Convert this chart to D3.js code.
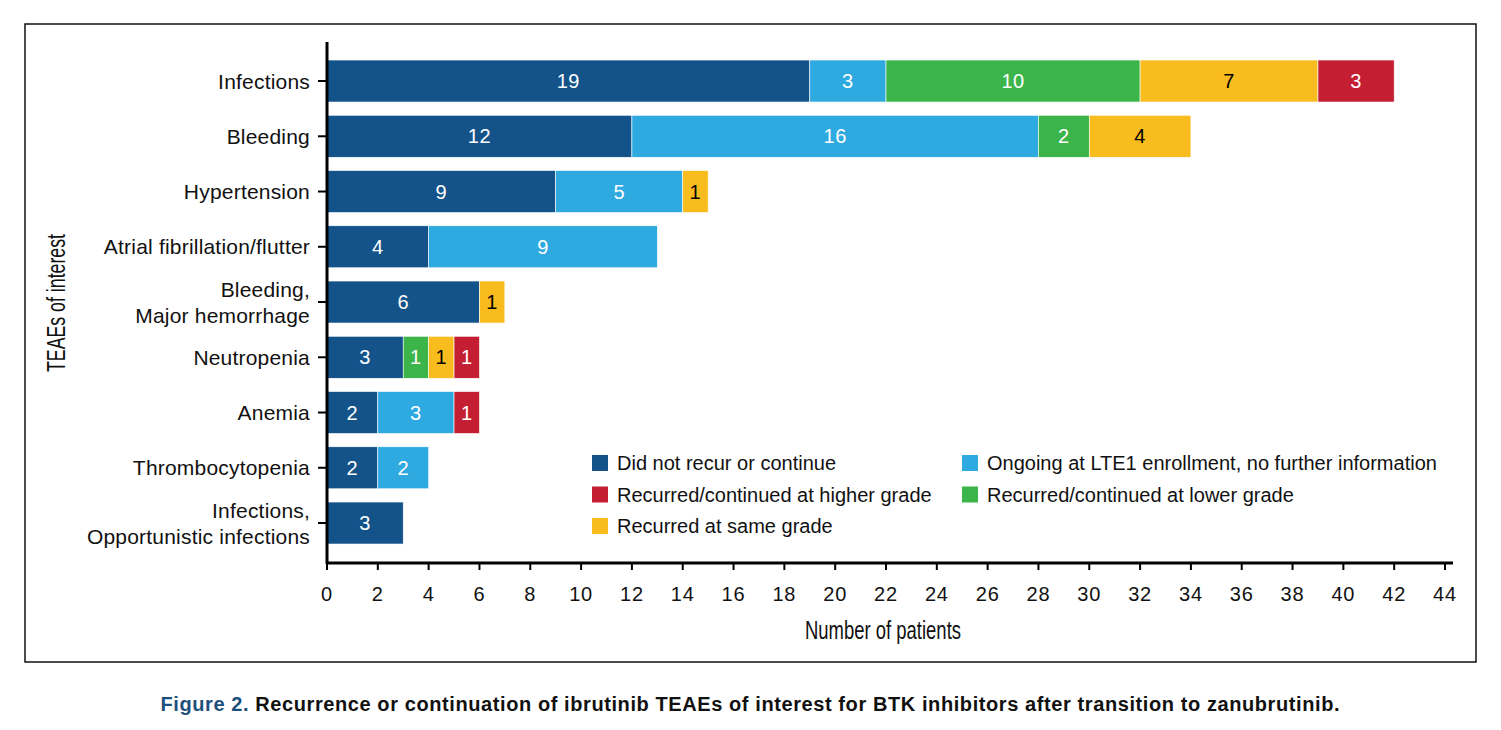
<!DOCTYPE html>
<html>
<head>
<meta charset="utf-8">
<script src="https://cdn.jsdelivr.net/npm/d3@7"></script>
<style>
  body { margin: 0; background: #fff; }
  svg { display: block; font-family: "Liberation Sans", Arial, sans-serif; }
</style>
</head>
<body>
<svg id="chart" width="1501" height="730"></svg>
<script>
// categories top to bottom
const categories = [
  "Infections",
  "Bleeding",
  "Hypertension",
  "Atrial fibrillation/flutter",
  "Bleeding,\nMajor hemorrhage",
  "Neutropenia",
  "Anemia",
  "Thrombocytopenia",
  "Infections,\nOpportunistic infections"
];

// series in stacking order, left to right
const seriesNames = [
  "Did not recur or continue",
  "Ongoing at LTE1 enrollment, no further information",
  "Recurred/continued at lower grade",
  "Recurred at same grade",
  "Recurred/continued at higher grade"
];
const seriesColors = ["#13538a", "#2eaae1", "#3bb54a", "#f9bc1e", "#c41e32"];

const didNotRecur = [19, 12, 9, 4, 6, 3, 2, 2, 3];
const ongoing     = [3, 16, 5, 9, 0, 0, 3, 2, 0];
const lowerGrade  = [10, 2, 0, 0, 0, 1, 0, 0, 0];
const sameGrade   = [7, 4, 1, 0, 1, 1, 0, 0, 0];
const higherGrade = [3, 0, 0, 0, 0, 1, 1, 0, 0];

const xTicks = d3.range(0, 45, 2);

// legend layout: two columns
const legendOrder = [
  [seriesNames[0], seriesNames[4], seriesNames[3]],
  [seriesNames[1], seriesNames[2]]
];

const rows = categories.map((c, i) => ({
  cat: c,
  [seriesNames[0]]: didNotRecur[i],
  [seriesNames[1]]: ongoing[i],
  [seriesNames[2]]: lowerGrade[i],
  [seriesNames[3]]: sameGrade[i],
  [seriesNames[4]]: higherGrade[i]
}));

const svg = d3.select("#chart");

// frame
svg.append("rect")
  .attr("x", 25).attr("y", 24)
  .attr("width", 1451).attr("height", 638)
  .attr("fill", "none").attr("stroke", "#111").attr("stroke-width", 1.5);

const x = d3.scaleLinear().domain([0, 44]).range([327, 1445]);
const y = d3.scaleBand()
  .domain(categories)
  .range([53.4, 550.65])
  .paddingInner(0.24)
  .paddingOuter(0.12);

const color = d3.scaleOrdinal().domain(seriesNames).range(seriesColors);

const stacked = d3.stack().keys(seriesNames)(rows);

// bars
const layers = svg.append("g")
  .selectAll("g")
  .data(stacked)
  .join("g")
    .attr("fill", d => color(d.key));

layers.selectAll("rect")
  .data(d => d.filter(s => s[1] - s[0] > 0).map(s => Object.assign(s, {key: d.key})))
  .join("rect")
    .attr("x", d => x(d[0]))
    .attr("y", d => y(d.data.cat))
    .attr("width", d => x(d[1]) - x(d[0]))
    .attr("height", y.bandwidth())
    .attr("stroke", "#fff")
    .attr("stroke-width", 0.6);

layers.selectAll("text")
  .data(d => d.filter(s => s[1] - s[0] > 0).map(s => Object.assign(s, {key: d.key})))
  .join("text")
    .attr("x", d => (x(d[0]) + x(d[1])) / 2)
    .attr("y", d => y(d.data.cat) + y.bandwidth() / 2)
    .attr("dy", "0.36em")
    .attr("text-anchor", "middle")
    .attr("font-size", 20)
    .attr("letter-spacing", 0.5)
    .attr("fill", d => d.key === seriesNames[3] ? "#000" : "#fff")
    .text(d => d[1] - d[0]);

// x axis
const xAxis = svg.append("g")
  .attr("transform", "translate(0,563)");
xAxis.append("line")
  .attr("x1", 326).attr("x2", 1453)
  .attr("stroke", "#000").attr("stroke-width", 3);
xAxis.selectAll(".tick")
  .data(xTicks)
  .join("line")
    .attr("x1", d => x(d)).attr("x2", d => x(d))
    .attr("y1", 0).attr("y2", 7)
    .attr("stroke", "#000").attr("stroke-width", 2);
xAxis.selectAll("text")
  .data(xTicks)
  .join("text")
    .attr("x", d => x(d))
    .attr("y", 38)
    .attr("text-anchor", "middle")
    .attr("font-size", 20)
    .attr("letter-spacing", 0.8)
    .attr("fill", "#111")
    .text(d => d);

svg.append("text")
  .attr("x", 883).attr("y", 639)
  .attr("text-anchor", "middle")
  .attr("font-size", 25)
  .attr("textLength", 156)
  .attr("lengthAdjust", "spacingAndGlyphs")
  .attr("fill", "#111")
  .text("Number of patients");

// y axis
const yAxis = svg.append("g");
yAxis.append("line")
  .attr("x1", 327).attr("x2", 327)
  .attr("y1", 42).attr("y2", 564)
  .attr("stroke", "#000").attr("stroke-width", 3);
yAxis.selectAll("line.tick")
  .data(categories)
  .join("line")
    .attr("class", "tick")
    .attr("x1", 318).attr("x2", 327)
    .attr("y1", d => y(d) + y.bandwidth() / 2)
    .attr("y2", d => y(d) + y.bandwidth() / 2)
    .attr("stroke", "#000").attr("stroke-width", 2);
yAxis.selectAll("text")
  .data(categories)
  .join("text")
    .attr("text-anchor", "end")
    .attr("font-size", 21)
    .attr("letter-spacing", 0.2)
    .attr("fill", "#111")
    .each(function(d) {
      const lines = d.split("\n");
      const cy = y(d) + y.bandwidth() / 2;
      const t = d3.select(this);
      lines.forEach((ln, i) => {
        t.append("tspan")
          .attr("x", 310)
          .attr("y", cy + (i - (lines.length - 1) / 2) * 26)
          .attr("dy", "0.36em")
          .text(ln);
      });
    });

svg.append("text")
  .attr("transform", "translate(65,303) rotate(-90)")
  .attr("text-anchor", "middle")
  .attr("font-size", 25)
  .attr("textLength", 138)
  .attr("lengthAdjust", "spacingAndGlyphs")
  .attr("fill", "#111")
  .text("TEAEs of interest");

// legend
const legendX = [592, 962];
legendOrder.forEach((col, ci) => {
  const g = svg.append("g").attr("transform", `translate(${legendX[ci]},463)`);
  const items = g.selectAll("g")
    .data(col)
    .join("g")
      .attr("transform", (d, i) => `translate(0,${i * 31.5})`);
  items.append("rect")
    .attr("x", 0).attr("y", -8)
    .attr("width", 16).attr("height", 16)
    .attr("fill", d => color(d));
  items.append("text")
    .attr("x", 25).attr("y", 0)
    .attr("dy", "0.36em")
    .attr("font-size", 20)
    .attr("fill", "#111")
    .text(d => d);
});

// caption
const cap = svg.append("text")
  .attr("x", 750).attr("y", 711)
  .attr("text-anchor", "middle")
  .attr("font-size", 20)
  .attr("font-weight", "bold")
  .attr("textLength", 1179)
  .attr("lengthAdjust", "spacing");
cap.append("tspan").attr("fill", "#1d4f7c").text("Figure 2. ");
cap.append("tspan").attr("fill", "#111")
  .text("Recurrence or continuation of ibrutinib TEAEs of interest for BTK inhibitors after transition to zanubrutinib.");
</script>
</body>
</html>
